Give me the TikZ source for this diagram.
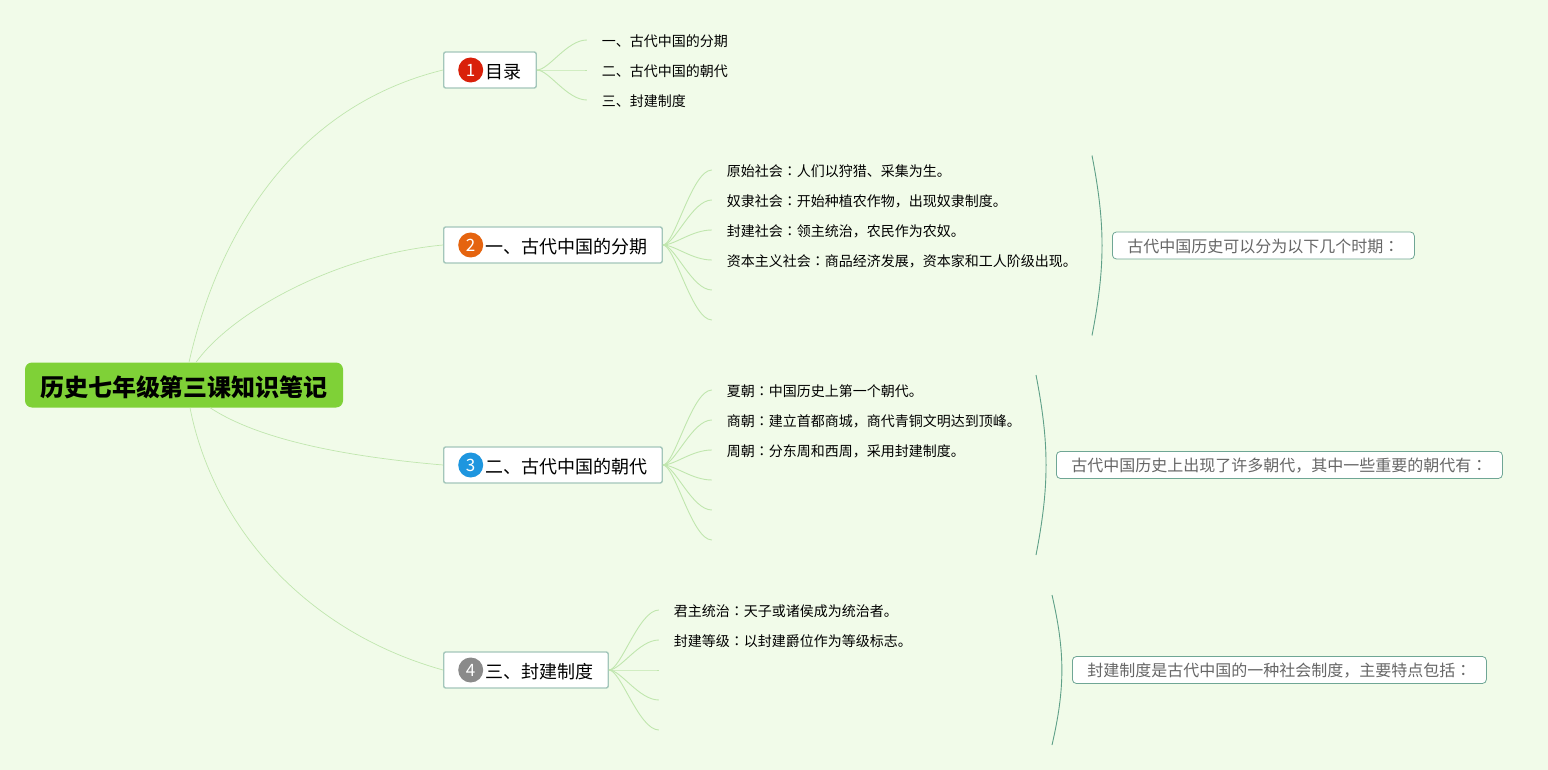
\documentclass[tikz,border=0pt]{standalone}
\usepackage{fontspec}
\usepackage{xcolor}
\usepackage{tikz}
\usetikzlibrary{positioning}
\setmainfont{Noto Sans CJK SC}
\newfontfamily\colonfont{Noto Sans CJK TC}
\newcommand{\midcolon}{{\colonfont ：}}
\definecolor{paper}{HTML}{F1FBE9}
\definecolor{rootgreen}{HTML}{7FD137}
\definecolor{twiggreen}{HTML}{C0E6AE}
\definecolor{boxedge}{HTML}{A3C6BA}
\definecolor{noteedge}{HTML}{6FA695}
\definecolor{braceedge}{HTML}{5FA088}
\definecolor{graytext}{HTML}{666666}
\definecolor{markred}{HTML}{D9200A}
\definecolor{markorange}{HTML}{E5640F}
\definecolor{markblue}{HTML}{1E96DF}
\definecolor{markgray}{HTML}{8A8A8A}

\begin{document}
\begin{tikzpicture}[
  x=1pt, y=-1pt,
  root/.style={
    fill=rootgreen, rounded corners=7pt, minimum width=318pt, minimum height=45pt,
    inner sep=0pt, text height=25pt, text depth=1.4pt,
    font=\fontsize{24}{24}\selectfont\bfseries
  },
  topic/.style={
    draw=boxedge, fill=white, rounded corners=2pt, line width=1.4pt, anchor=west,
    minimum height=36pt, inner sep=0pt, text height=18pt, text depth=1.3pt,
    font=\fontsize{18}{18}\selectfont,
    execute at begin node=\hspace*{42pt}, execute at end node=\hspace*{14.5pt}
  },
  badge/.style={
    circle, minimum size=25pt, inner sep=0pt, text=white,
    font=\fontsize{17}{17}\selectfont
  },
  leaf/.style={
    minimum height=30pt, inner ysep=0pt, inner xsep=15pt, outer sep=0pt,
    text height=14.6pt, text depth=1pt, font=\fontsize{14}{14}\selectfont
  },
  note/.style={
    draw=noteedge, fill=white, rounded corners=4pt, line width=0.8pt, anchor=west,
    minimum height=27pt, inner ysep=0pt, inner xsep=15pt, text=graytext,
    text height=14.5pt, text depth=1.3pt, font=\fontsize{16}{16}\selectfont
  },
  limb/.style={draw=twiggreen, line width=0.7pt},
  twig/.style={draw=twiggreen, line width=0.9pt},
  brace/.style={draw=braceedge, line width=0.9pt},
  fan/.style={out=0, in=180, out distance=12pt, in distance=20pt}
]
  \fill[paper] (0,0) rectangle (1548,770);

  \node[root] (root) at (184,385) {历史七年级第三课知识笔记};

  \node[topic] (topica) at (443,70) {目录};
  \node[topic] (topicb) at (443,245) {一、古代中国的分期};
  \node[topic] (topicc) at (443,465) {二、古代中国的朝代};
  \node[topic] (topicd) at (443,670) {三、封建制度};

  \node[badge, fill=markred, right=15pt of topica.west] (marka) {1};
  \node[badge, fill=markorange, right=15pt of topicb.west] (markb) {2};
  \node[badge, fill=markblue, right=15pt of topicc.west] (markc) {3};
  \node[badge, fill=markgray, right=15pt of topicd.west] (markd) {4};

  \node[leaf, right=50pt of topica.east, yshift=30pt] (leafaa) {一、古代中国的分期};
  \node[leaf, below right=0pt of leafaa.south west] (leafab) {二、古代中国的朝代};
  \node[leaf, below right=0pt of leafab.south west] (leafac) {三、封建制度};

  \node[leaf, right=49pt of topicb.east, yshift=75pt] (leafba) {原始社会\midcolon 人们以狩猎、采集为生。};
  \node[leaf, below right=0pt of leafba.south west] (leafbb) {奴隶社会\midcolon 开始种植农作物，出现奴隶制度。};
  \node[leaf, below right=0pt of leafbb.south west] (leafbc) {封建社会\midcolon 领主统治，农民作为农奴。};
  \node[leaf, below right=0pt of leafbc.south west] (leafbd) {资本主义社会\midcolon 商品经济发展，资本家和工人阶级出现。};
  \node[leaf, below right=0pt of leafbd.south west] (leafbe) {};
  \node[leaf, below right=0pt of leafbe.south west] (leafbf) {};

  \node[leaf, right=49pt of topicc.east, yshift=75pt] (leafca) {夏朝\midcolon 中国历史上第一个朝代。};
  \node[leaf, below right=0pt of leafca.south west] (leafcb) {商朝\midcolon 建立首都商城，商代青铜文明达到顶峰。};
  \node[leaf, below right=0pt of leafcb.south west] (leafcc) {周朝\midcolon 分东周和西周，采用封建制度。};
  \node[leaf, below right=0pt of leafcc.south west] (leafcd) {};
  \node[leaf, below right=0pt of leafcd.south west] (leafce) {};
  \node[leaf, below right=0pt of leafce.south west] (leafcf) {};

  \node[leaf, right=50pt of topicd.east, yshift=60pt] (leafda) {君主统治\midcolon 天子或诸侯成为统治者。};
  \node[leaf, below right=0pt of leafda.south west] (leafdb) {封建等级\midcolon 以封建爵位作为等级标志。};
  \node[leaf, below right=0pt of leafdb.south west] (leafdc) {};
  \node[leaf, below right=0pt of leafdc.south west] (leafdd) {};
  \node[leaf, below right=0pt of leafdd.south west] (leafde) {};

  \node[note] (noteb) at (1112,245.5) {古代中国历史可以分为以下几个时期\midcolon};
  \node[note] (notec) at (1056,465) {古代中国历史上出现了许多朝代，其中一些重要的朝代有\midcolon};
  \node[note] (noted) at (1072,670) {封建制度是古代中国的一种社会制度，主要特点包括\midcolon};

  \coordinate[above left=90pt and 20pt of noteb.west] (bracebtop);
  \coordinate[below left=90pt and 20pt of noteb.west] (bracebbot);
  \coordinate[above left=90pt and 20pt of notec.west] (bracectop);
  \coordinate[below left=90pt and 20pt of notec.west] (bracecbot);
  \coordinate[above left=75pt and 20pt of noted.west] (bracedtop);
  \coordinate[below left=75pt and 20pt of noted.west] (bracedbot);

  \draw[limb] ([xshift=5pt]root.north) .. controls +(31,-137) and +(-143,35) .. (topica.west);
  \draw[limb] ([xshift=12pt]root.north) .. controls +(36,-50) and +(-108,10) .. (topicb.west);
  \draw[limb] ([xshift=26pt]root.south) .. controls +(50,33) and +(-93,-8) .. (topicc.west);
  \draw[limb] ([xshift=6pt]root.south) .. controls +(22,113) and +(-143,-40) .. (topicd.west);

  \foreach \leafname in {leafaa,leafab,leafac}
    \draw[twig] (topica.east) to[fan] (\leafname.west);
  \foreach \leafname in {leafba,leafbb,leafbc,leafbd,leafbe,leafbf}
    \draw[twig] (topicb.east) to[fan] (\leafname.west);
  \foreach \leafname in {leafca,leafcb,leafcc,leafcd,leafce,leafcf}
    \draw[twig] (topicc.east) to[fan] (\leafname.west);
  \foreach \leafname in {leafda,leafdb,leafdc,leafdd,leafde}
    \draw[twig] (topicd.east) to[fan] (\leafname.west);

  \draw[brace] (bracebtop) to[bend left=11] (bracebbot);
  \draw[brace] (bracectop) to[bend left=11] (bracecbot);
  \draw[brace] (bracedtop) to[bend left=13] (bracedbot);
\end{tikzpicture}
\end{document}
